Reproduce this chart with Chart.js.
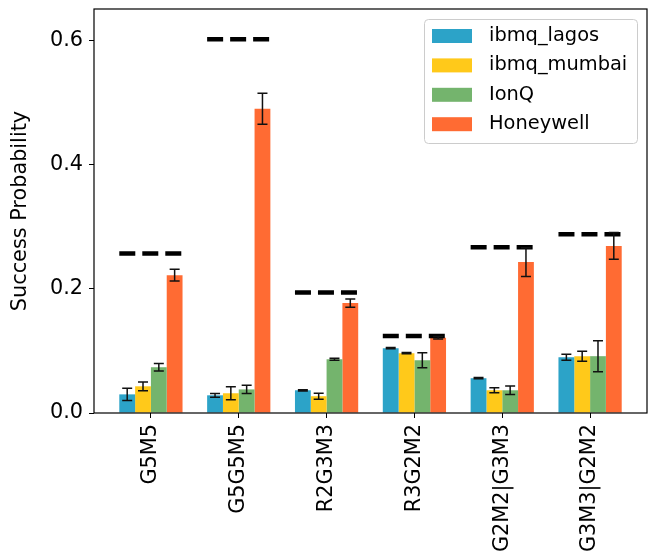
<!DOCTYPE html>
<html><head><meta charset="utf-8">
<script src="https://cdn.jsdelivr.net/npm/chart.js@4"></script>
<style>html,body{margin:0;padding:0;background:#fff;overflow:hidden;}</style>
</head><body>
<canvas id="c" width="649" height="559"></canvas>
<script>
const categories = ['G5M5','G5G5M5','R2G3M3','R3G2M2','G2M2|G3M3','G3M3|G2M2'];
const seriesNames = ['ibmq_lagos','ibmq_mumbai','IonQ','Honeywell'];
const seriesColors = ['#2ca3c8','#ffc91a','#74b46d','#ff6b33'];
const lagos = [0.030,0.0285,0.0366,0.1044,0.056,0.0898];
const lagosErr = [0.0097,0.003,0.001,0.001,0.001,0.005];
const mumbai = [0.043,0.0318,0.027,0.0963,0.0366,0.0915];
const mumbaiErr = [0.007,0.0105,0.005,0.001,0.004,0.008];
const ionq = [0.0737,0.038,0.0866,0.085,0.0366,0.0915];
const ionqErr = [0.006,0.0065,0.0015,0.012,0.0067,0.025];
const honeywell = [0.222,0.490,0.177,0.121,0.243,0.269];
const honeywellErr = [0.0095,0.025,0.0065,0.002,0.023,0.0215];
const idealValues = [0.257,0.602,0.194,0.124,0.267,0.288];
const yTicks = [0,0.2,0.4,0.6];
const yLabel = 'Success Probability';

const seriesValues = [lagos, mumbai, ionq, honeywell];
const seriesErrors = [lagosErr, mumbaiErr, ionqErr, honeywellErr];
const FONT = 'DejaVu Sans';
const groupHalf = 0.36;

const datasets = seriesValues.map((vals, s) => ({
  type: 'bar',
  label: seriesNames[s],
  data: vals.map((v, i) => ({x: i, y: v})),
  backgroundColor: seriesColors[s],
  borderWidth: 0,
  categoryPercentage: 0.72,
  barPercentage: 1.0,
  errors: seriesErrors[s],
  order: 1
}));
idealValues.forEach((v, i) => {
  datasets.push({
    type: 'line',
    label: '_ideal' + i,
    data: [{x: i - groupHalf, y: v}, {x: i + groupHalf, y: v}],
    borderColor: '#000',
    borderWidth: 4.5,
    borderDash: [16, 7],
    borderCapStyle: 'butt',
    pointRadius: 0,
    fill: false,
    order: 0
  });
});

const errorBarPlugin = {
  id: 'errorBars',
  afterDatasetsDraw(chart) {
    const ctx = chart.ctx, ys = chart.scales.y;
    ctx.save();
    ctx.strokeStyle = '#111';
    ctx.lineWidth = 1.5;
    chart.data.datasets.forEach((ds, di) => {
      if (!ds.errors) return;
      const meta = chart.getDatasetMeta(di);
      meta.data.forEach((el, j) => {
        const v = ds.data[j].y, e = ds.errors[j];
        const x = el.x, y1 = ys.getPixelForValue(v + e), y2 = ys.getPixelForValue(v - e);
        ctx.beginPath();
        ctx.moveTo(x, y1); ctx.lineTo(x, y2);
        ctx.moveTo(x - 5, y1); ctx.lineTo(x + 5, y1);
        ctx.moveTo(x - 5, y2); ctx.lineTo(x + 5, y2);
        ctx.stroke();
      });
    });
    const a = chart.chartArea;
    ctx.strokeStyle = '#000';
    ctx.lineWidth = 1.2;
    ctx.strokeRect(a.left, a.top, a.right - a.left, a.bottom - a.top);
    ctx.restore();
  }
};

const legendPlugin = {
  id: 'insideLegend',
  afterDraw(chart) {
    const ctx = chart.ctx, a = chart.chartArea;
    const x0 = a.right - 223, y0 = a.top + 10, w = 213, h = 124;
    ctx.save();
    ctx.fillStyle = 'rgba(255,255,255,0.8)';
    ctx.strokeStyle = '#cccccc';
    ctx.lineWidth = 1;
    ctx.beginPath();
    ctx.roundRect(x0 + 0.5, y0 + 0.5, w, h, 4);
    ctx.fill(); ctx.stroke();
    ctx.font = '19.4px "' + FONT + '"';
    ctx.textBaseline = 'middle';
    seriesNames.forEach((n, k) => {
      const cy = y0 + 17 + k * 29.4;
      ctx.fillStyle = seriesColors[k];
      ctx.fillRect(x0 + 8, cy - 7, 40, 14);
      ctx.fillStyle = '#000';
      ctx.fillText(n, x0 + 65, cy);
    });
    ctx.restore();
  }
};

new Chart(document.getElementById('c'), {
  type: 'bar',
  data: {datasets},
  options: {
    responsive: false,
    animation: false,
    devicePixelRatio: 1,
    layout: {padding: {top: 9, right: 2, left: 0, bottom: 0}},
    plugins: {legend: {display: false}, tooltip: {enabled: false}},
    scales: {
      x: {
        type: 'linear',
        offset: false,
        min: -0.648, max: 5.648,
        grid: {offset: false, drawOnChartArea: false, drawTicks: true, tickLength: 5, color: '#000', tickWidth: 1},
        border: {display: false},
        afterBuildTicks: s => { s.ticks = categories.map((c, i) => ({value: i})); },
        afterFit: s => { s.height = 146; s.paddingLeft = 0; s.paddingRight = 0; },
        ticks: {
          autoSkip: false, maxRotation: 90, minRotation: 90, padding: 6,
          color: '#000', font: {family: FONT, size: 20.8},
          callback: v => categories[v]
        }
      },
      y: {
        min: 0, max: 0.6506,
        grid: {drawOnChartArea: false, drawTicks: true, tickLength: 5, color: '#000', tickWidth: 1},
        border: {display: false},
        afterBuildTicks: s => { s.ticks = yTicks.map(v => ({value: v})); },
        afterFit: s => { s.width = 94; s.paddingTop = 0; s.paddingBottom = 0; },
        title: {display: true, text: yLabel, color: '#000', font: {family: FONT, size: 20.8}, padding: {top: 8, bottom: 0}},
        ticks: {color: '#000', padding: 6, font: {family: FONT, size: 20.8}, callback: v => v.toFixed(1)}
      }
    }
  },
  plugins: [errorBarPlugin, legendPlugin]
});
</script>
</body></html>
